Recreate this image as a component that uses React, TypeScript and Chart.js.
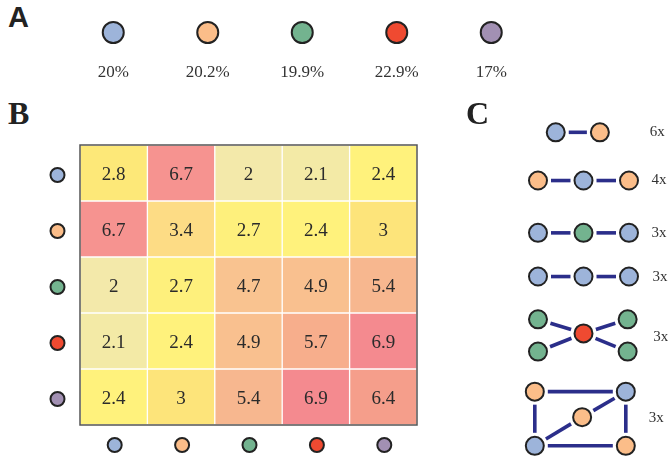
import React, { useEffect, useRef } from 'react';
import { Chart, registerables } from 'chart.js';

Chart.register(...registerables);

// ---------- data ----------
const TYPE_NAMES = ['blue', 'orange', 'green', 'red', 'purple'];
const TYPE_COLORS = ['#9db4da', '#fbbd89', '#73b38f', '#ef4a31', '#a290b3'];
const TYPE_SHARE_LABELS = ['20%', '20.2%', '19.9%', '22.9%', '17%'];
const TYPE_ROW = [0.5, 0.5, 0.5, 0.5, 0.5];

const HEAT_BLUE = [2.8, 6.7, 2, 2.1, 2.4];
const HEAT_ORANGE = [6.7, 3.4, 2.7, 2.4, 3];
const HEAT_GREEN = [2, 2.7, 4.7, 4.9, 5.4];
const HEAT_RED = [2.1, 2.4, 4.9, 5.7, 6.9];
const HEAT_PURPLE = [2.4, 3, 5.4, 6.9, 6.4];
const HEAT_ROWS = [HEAT_BLUE, HEAT_ORANGE, HEAT_GREEN, HEAT_RED, HEAT_PURPLE];

// colour scale stops (value -> colour)
const SCALE_VALUES = [2.0, 2.1, 2.4, 2.7, 2.8, 3.0, 3.4, 4.7, 4.9, 5.4, 5.7, 6.4, 6.7, 6.9];
const SCALE_COLORS = ['#f3e9aa', '#f3eaa6', '#fff27c', '#fef07c', '#fde878', '#fde47a', '#fddc85',
  '#f9c390', '#f9c08f', '#f7b78f', '#f7ae8c', '#f59e8b', '#f69390', '#f48a8f'];

// motifs: nodes [x, y, typeIndex] in layout units, edges as node index pairs
const MOTIF1_NODES = [[-0.61, 0.82, 0], [0.36, 0.82, 1]];
const MOTIF1_EDGES = [[0, 1]];
const MOTIF2_NODES = [[-1, 1.88, 1], [0, 1.88, 0], [1, 1.88, 1]];
const MOTIF2_EDGES = [[0, 1], [1, 2]];
const MOTIF3_NODES = [[-1, 3.03, 0], [0, 3.03, 2], [1, 3.03, 0]];
const MOTIF3_EDGES = [[0, 1], [1, 2]];
const MOTIF4_NODES = [[-1, 3.99, 0], [0, 3.99, 0], [1, 3.99, 0]];
const MOTIF4_EDGES = [[0, 1], [1, 2]];
const MOTIF5_NODES = [[-1, 4.93, 2], [-1, 5.64, 2], [0, 5.24, 3], [0.97, 4.93, 2], [0.97, 5.64, 2]];
const MOTIF5_EDGES = [[0, 2], [1, 2], [2, 3], [2, 4]];
const MOTIF6_NODES = [[-1.07, 6.52, 1], [0.93, 6.52, 0], [-0.03, 7.08, 1], [-1.07, 7.71, 0], [0.93, 7.71, 1]];
const MOTIF6_EDGES = [[0, 1], [0, 3], [3, 4], [1, 4], [3, 2], [2, 1]];
const MOTIF_NODES = [MOTIF1_NODES, MOTIF2_NODES, MOTIF3_NODES, MOTIF4_NODES, MOTIF5_NODES, MOTIF6_NODES];
const MOTIF_EDGES = [MOTIF1_EDGES, MOTIF2_EDGES, MOTIF3_EDGES, MOTIF4_EDGES, MOTIF5_EDGES, MOTIF6_EDGES];
const MOTIF_COUNTS = ['6x', '4x', '3x', '3x', '3x', '3x'];
const MOTIF_LABEL_X = [1.62, 1.66, 1.66, 1.68, 1.70, 1.60];
const MOTIF_LABEL_Y = [0.82, 1.88, 3.03, 4.0, 5.31, 7.10];

// ---------- helpers ----------
const NODE_BORDER = '#222222';
const TEXT_COLOR = '#2b2b2b';
const EDGE_COLOR = '#2b2e8a';
const SERIF = '"Liberation Serif", "Times New Roman", serif';

function hexToRgb(h: string) {
  const n = parseInt(h.slice(1), 16);
  return [(n >> 16) & 255, (n >> 8) & 255, n & 255];
}
function heatColor(v: number) {
  if (v <= SCALE_VALUES[0]) return SCALE_COLORS[0];
  for (let i = 1; i < SCALE_VALUES.length; i++) {
    if (v <= SCALE_VALUES[i]) {
      const t = (v - SCALE_VALUES[i - 1]) / (SCALE_VALUES[i] - SCALE_VALUES[i - 1]);
      const a = hexToRgb(SCALE_COLORS[i - 1]);
      const b = hexToRgb(SCALE_COLORS[i]);
      const c = a.map((x, k) => Math.round(x + (b[k] - x) * t));
      return `rgb(${c[0]},${c[1]},${c[2]})`;
    }
  }
  return SCALE_COLORS[SCALE_COLORS.length - 1];
}
function drawMarker(ctx: CanvasRenderingContext2D, x: number, y: number, r: number, color: string) {
  ctx.beginPath();
  ctx.arc(x, y, r, 0, Math.PI * 2);
  ctx.fillStyle = color;
  ctx.fill();
  ctx.lineWidth = 2;
  ctx.strokeStyle = NODE_BORDER;
  ctx.stroke();
}

// ---------- panel A ----------
function PanelA() {
  const ref = useRef<HTMLCanvasElement>(null);
  useEffect(() => {
    const chart = new Chart(ref.current as HTMLCanvasElement, {
      type: 'line',
      data: {
        labels: TYPE_SHARE_LABELS,
        datasets: [{
          data: TYPE_ROW,
          showLine: false,
          pointRadius: 10.5,
          pointHoverRadius: 10.5,
          pointBorderWidth: 2,
          pointBorderColor: NODE_BORDER,
          pointBackgroundColor: TYPE_COLORS,
          clip: false,
        } as any],
      },
      options: {
        responsive: false,
        animation: false,
        events: [],
        layout: { autoPadding: false, padding: { left: 10, right: 9.5, top: 6, bottom: 14.6 } },
        plugins: { legend: { display: false }, tooltip: { enabled: false } },
        scales: {
          x: {
            type: 'category',
            offset: true,
            grid: { display: false, drawTicks: false },
            border: { display: false },
            ticks: { padding: 3, color: '#333', font: { family: SERIF, size: 17 } },
          },
          y: { display: false, min: 0, max: 1 },
        },
      },
    });
    return () => chart.destroy();
  }, []);
  return <canvas ref={ref} width={492} height={100} style={{ position: 'absolute', left: 56, top: 0, width: 492, height: 100 }} />;
}

// ---------- panel B ----------
const heatDecor = {
  id: 'heatDecor',
  afterDatasetsDraw(chart: any) {
    const { ctx, chartArea, scales } = chart;
    ctx.save();
    // frame
    ctx.strokeStyle = '#555555';
    ctx.lineWidth = 1.5;
    ctx.strokeRect(chartArea.left, chartArea.top, chartArea.right - chartArea.left, chartArea.bottom - chartArea.top);
    // values
    ctx.fillStyle = TEXT_COLOR;
    ctx.font = `19px ${SERIF}`;
    ctx.textAlign = 'center';
    ctx.textBaseline = 'middle';
    HEAT_ROWS.forEach((row, r) => {
      const meta = chart.getDatasetMeta(r);
      meta.data.forEach((bar: any, j: number) => {
        const p = bar.getProps(['x', 'y', 'base'], true);
        ctx.fillText(String(row[j]), p.x, (p.y + p.base) / 2 + 2);
      });
    });
    // row / column type markers
    TYPE_NAMES.forEach((_, i) => {
      const yPix = scales.y.getPixelForValue(i + 0.5) + 2;
      drawMarker(ctx, chartArea.left - 22.5, yPix, 7, TYPE_COLORS[i]);
      const xPix = scales.x.getPixelForValue(i) + 1;
      drawMarker(ctx, xPix, chartArea.bottom + 20, 7, TYPE_COLORS[i]);
    });
    ctx.restore();
  },
};

function PanelB() {
  const ref = useRef<HTMLCanvasElement>(null);
  useEffect(() => {
    const chart = new Chart(ref.current as HTMLCanvasElement, {
      type: 'bar',
      data: {
        labels: TYPE_NAMES,
        datasets: HEAT_ROWS.map((row, r) => ({
          data: row.map(() => [r, r + 1]),
          backgroundColor: row.map(heatColor),
          borderColor: '#ffffff',
          borderWidth: 1,
          borderSkipped: false,
          barPercentage: 1,
          categoryPercentage: 1,
          grouped: false,
        })) as any,
      },
      options: {
        responsive: false,
        animation: false,
        events: [],
        layout: { autoPadding: false, padding: { left: 40, top: 10, right: 23, bottom: 32 } },
        plugins: { legend: { display: false }, tooltip: { enabled: false } },
        scales: {
          x: { type: 'category', display: false, offset: true },
          y: { type: 'linear', display: false, min: 0, max: 5, reverse: true },
        },
      },
      plugins: [heatDecor],
    });
    return () => chart.destroy();
  }, []);
  return <canvas ref={ref} width={400} height={322} style={{ position: 'absolute', left: 40, top: 135, width: 400, height: 322 }} />;
}

// ---------- panel C ----------
const motifDecor = {
  id: 'motifDecor',
  beforeDatasetsDraw(chart: any) {
    const { ctx } = chart;
    ctx.save();
    ctx.strokeStyle = EDGE_COLOR;
    ctx.lineWidth = 3.6;
    ctx.lineCap = 'butt';
    MOTIF_EDGES.forEach((edges, m) => {
      const meta = chart.getDatasetMeta(m);
      edges.forEach(([a, b]) => {
        const pa = meta.data[a].getProps(['x', 'y'], true);
        const pb = meta.data[b].getProps(['x', 'y'], true);
        const dx = pb.x - pa.x;
        const dy = pb.y - pa.y;
        const len = Math.hypot(dx, dy);
        const s = 13;
        ctx.beginPath();
        ctx.moveTo(pa.x + (dx / len) * s, pa.y + (dy / len) * s);
        ctx.lineTo(pb.x - (dx / len) * s, pb.y - (dy / len) * s);
        ctx.stroke();
      });
    });
    ctx.restore();
  },
  afterDatasetsDraw(chart: any) {
    const { ctx, scales } = chart;
    ctx.save();
    ctx.fillStyle = '#333';
    ctx.font = `15px ${SERIF}`;
    ctx.textAlign = 'center';
    ctx.textBaseline = 'middle';
    MOTIF_COUNTS.forEach((t, i) => {
      ctx.fillText(t, scales.x.getPixelForValue(MOTIF_LABEL_X[i]), scales.y.getPixelForValue(MOTIF_LABEL_Y[i]));
    });
    ctx.restore();
  },
};

function PanelC() {
  const ref = useRef<HTMLCanvasElement>(null);
  useEffect(() => {
    const chart = new Chart(ref.current as HTMLCanvasElement, {
      type: 'scatter',
      data: {
        datasets: MOTIF_NODES.map((nodes) => ({
          data: nodes.map(([x, y]) => ({ x, y })),
          pointBackgroundColor: nodes.map((n) => TYPE_COLORS[n[2]]),
          pointBorderColor: NODE_BORDER,
          pointBorderWidth: 2,
          pointRadius: 9,
          pointHoverRadius: 9,
          showLine: false,
          clip: false,
        })) as any,
      },
      options: {
        responsive: false,
        animation: false,
        events: [],
        layout: { autoPadding: false, padding: 0 },
        plugins: { legend: { display: false }, tooltip: { enabled: false } },
        scales: {
          x: { type: 'linear', display: false, min: -1.835, max: 1.857 },
          y: { type: 'linear', display: false, min: 0, max: 7.956, reverse: true },
        },
      },
      plugins: [motifDecor],
    });
    return () => chart.destroy();
  }, []);
  return <canvas ref={ref} width={168} height={362} style={{ position: 'absolute', left: 500, top: 95, width: 168, height: 362 }} />;
}

// ---------- app ----------
export default function App() {
  const letterSans = { position: 'absolute' as const, font: 'bold 29px "Liberation Sans", Arial, sans-serif', lineHeight: '29px', color: '#222' };
  const letterSerif = { position: 'absolute' as const, font: `bold 32px ${SERIF}`, lineHeight: '32px', color: '#222' };
  return (
    <div style={{ position: 'fixed', left: 0, top: 0, width: 668, height: 457, background: '#ffffff', overflow: 'hidden' }}>
      <PanelA />
      <PanelB />
      <PanelC />
      <div style={{ ...letterSans, left: 8, top: 3 }}>A</div>
      <div style={{ ...letterSerif, left: 8, top: 97 }}>B</div>
      <div style={{ ...letterSerif, left: 466, top: 97 }}>C</div>
    </div>
  );
}
